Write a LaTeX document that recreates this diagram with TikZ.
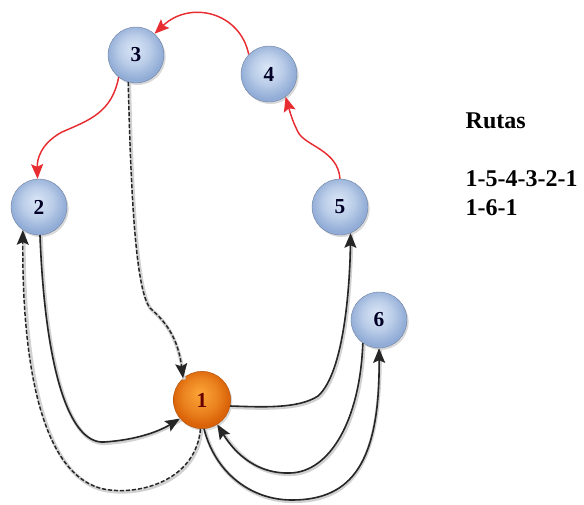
\documentclass[tikz,border=0pt]{standalone}
\usepackage{fontspec}
\setmainfont{Liberation Serif}
\usetikzlibrary{arrows.meta,shadows}

\definecolor{bluelt}{RGB}{218,230,246}
\definecolor{bluedk}{RGB}{145,172,214}
\definecolor{orglt}{RGB}{252,165,55}
\definecolor{orgdk}{RGB}{218,98,8}
\definecolor{rojo}{RGB}{232,45,50}

\pgfdeclareradialshading{bolaazul}{\pgfpoint{-2bp}{6bp}}{color(0bp)=(bluelt); color(14bp)=(bluelt!55!bluedk); color(25bp)=(bluedk); color(50bp)=(bluedk)}
\pgfdeclareradialshading{bolanaranja}{\pgfpoint{-2bp}{6bp}}{color(0bp)=(orglt); color(15bp)=(orglt!50!orgdk); color(25bp)=(orgdk); color(50bp)=(orgdk)}

\tikzset{
  nodo/.style={circle, minimum size=42pt, inner sep=0pt, shading=bolaazul,
    draw=bluedk!75!black, line width=0.3pt,
    drop shadow={opacity=0.3, shadow xshift=1.2pt, shadow yshift=-1.5pt},
    font=\fontsize{16}{18}\selectfont\bfseries, text=black!85!blue},
  deposito/.style={nodo, minimum size=43pt, shading=bolanaranja, draw=orgdk!80!black,
    text=red!40!black},
  sombra/.style={preaction={draw=black!18, line width=2.6pt, solid, -,
    transform canvas={shift={(0.8pt,-1pt)}}}},
  ida/.style={draw=black!85, line width=1.2pt, sombra,
    -{Stealth[length=11pt,width=9pt,inset=2pt]}},
  vuelta/.style={ida, dash pattern=on 3pt off 1.5pt, line width=1.1pt},
  ruta/.style={draw=rojo, line width=1.1pt, -{Stealth[length=11pt,width=9pt,inset=2pt]}}
}

\begin{document}
\begin{tikzpicture}[x=0.75pt, y=-0.75pt]
\useasboundingbox (0,0) rectangle (584,504);

% clientes y deposito
\node[nodo] (n3) at (136,55) {3};
\node[nodo] (n4) at (269,74) {4};
\node[nodo] (n2) at (39,207) {2};
\node[nodo] (n5) at (340,207) {5};
\node[nodo] (n6) at (379,320) {6};
\node[deposito] (n1) at (202,400) {1};

% ruta 1-5-4-3-2-1
\draw[ruta] (n5.north) .. controls (338,150) and (305,146) .. (298,132)
  .. controls (292,120) and (290,112) .. (n4.-54);
\draw[ruta] (n4.136) .. controls (240,12) and (190,0) .. (n3.49);
\draw[ruta] (n3.-128) .. controls (112,112) and (90,120) .. (62,132)
  .. controls (40,144) and (37,160) .. (n2.93);
\draw[ida] (n1.-12) .. controls (262,407) and (298,409) .. (318,396)
  .. controls (345,372) and (350,280) .. (n5.-68);
\draw[ida] (n2.-88) .. controls (45,365) and (68,444) .. (104,442)
  .. controls (135,440) and (158,432) .. (n1.-140);

% ruta 1-6-1
\draw[ida] (n1.-86) .. controls (215,472) and (250,500) .. (292,500)
  .. controls (352,500) and (380,462) .. (n6.-90);
\draw[ida] (n6.-125) .. controls (360,420) and (330,472) .. (290,473)
  .. controls (258,474) and (236,455) .. (n1.-58);

% retornos alternos
\draw[vuelta] (n3.-106) .. controls (131,200) and (136,290) .. (150,308)
  .. controls (166,322) and (178,338) .. (n1.131);
\draw[vuelta] (n1.-93) .. controls (196,478) and (145,494) .. (110,490)
  .. controls (50,484) and (22,390) .. (n2.-125);

% leyenda
\node[anchor=base west, font=\fontsize{18}{21}\selectfont\bfseries] (tit) at (461,128) {Rutas};
\node[anchor=base west, font=\fontsize{18}{21}\selectfont\bfseries] (r1) at (461,186) {1-5-4-3-2-1};
\node[anchor=base west, font=\fontsize{18}{21}\selectfont\bfseries] (r2) at (461,215) {1-6-1};
\end{tikzpicture}
\end{document}
